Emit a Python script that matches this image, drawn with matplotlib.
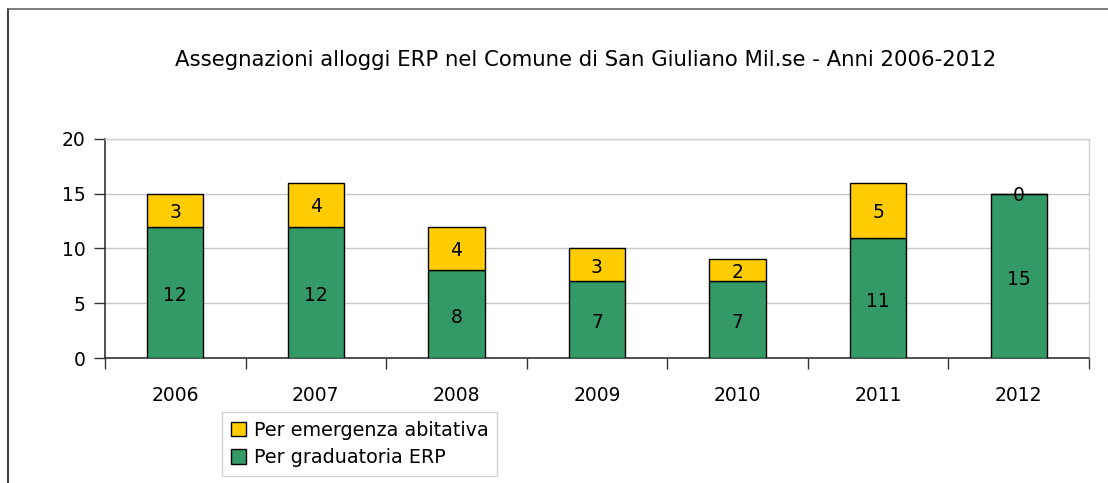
import matplotlib.pyplot as plt
from matplotlib.lines import Line2D
import numpy as np

anni = ["2006", "2007", "2008", "2009", "2010", "2011", "2012"]
graduatoria = [12, 12, 8, 7, 7, 11, 15]
emergenza = [3, 4, 4, 3, 2, 5, 0]

verde = "#339966"
giallo = "#FFCC00"

W, H = 1108, 483
fig = plt.figure(figsize=(W / 100, H / 100), dpi=100)
ax = fig.add_axes([105 / W, 1 - 358 / H, (1089 - 105) / W, (358 - 139) / H])

x = np.arange(len(anni))
b1 = ax.bar(x, graduatoria, width=0.4, color=verde, edgecolor="black", linewidth=1,
            label="Per graduatoria ERP", zorder=3)
b2 = ax.bar(x, emergenza, width=0.4, bottom=graduatoria, color=giallo, edgecolor="black",
            linewidth=1, label="Per emergenza abitativa", zorder=3)

for xi, g, e in zip(x, graduatoria, emergenza):
    ax.text(xi, g / 2 - 0.3, str(g), ha="center", va="center", fontsize=13.5, zorder=4)
    ax.text(xi, g + e / 2 - 0.2, str(e), ha="center", va="center", fontsize=13.5, zorder=4)

ax.set_xlim(-0.5, len(anni) - 0.5)
ax.set_ylim(0, 20)
ax.set_yticks([0, 5, 10, 15, 20])
ax.yaxis.grid(True, color="#c8c8c8", linewidth=1, zorder=0)
ax.set_xticks(x)
ax.set_xticklabels(anni)
ax.set_xticks(np.arange(len(anni) + 1) - 0.5, minor=True)
ax.tick_params(axis="x", which="major", length=0, labelsize=13.5, pad=20)
ax.tick_params(axis="x", which="minor", length=8, width=1, color="#333333")
ax.tick_params(axis="y", length=8, width=1, labelsize=13.5, color="#333333", pad=6)

for s in ["left", "bottom"]:
    ax.spines[s].set_color("#333333")
    ax.spines[s].set_linewidth(1.2)
for s in ["right", "top"]:
    ax.spines[s].set_color("#d0d0d0")
    ax.spines[s].set_linewidth(1)

fig.text(586 / W, 1 - 60 / H, "Assegnazioni alloggi ERP nel Comune di San Giuliano Mil.se - Anni 2006-2012",
         ha="center", va="center", fontsize=15.3)

leg = fig.legend(handles=[b2, b1], loc="upper left", bbox_to_anchor=(222 / W, 1 - 412 / H),
                 frameon=True, fancybox=False, fontsize=13.8, handlelength=0.8, handleheight=0.8,
                 handletextpad=0.4, borderpad=0.45, labelspacing=0.45, borderaxespad=0)
leg.get_frame().set_edgecolor("#c8c8c8")
leg.get_frame().set_linewidth(1)

fig.add_artist(Line2D([8 / W, 8 / W], [0, 1 - 9 / H], color="#444444", linewidth=1.5))
fig.add_artist(Line2D([8 / W, 1], [1 - 9 / H, 1 - 9 / H], color="#666666", linewidth=1.2))

fig.savefig("out.png", dpi=100)
